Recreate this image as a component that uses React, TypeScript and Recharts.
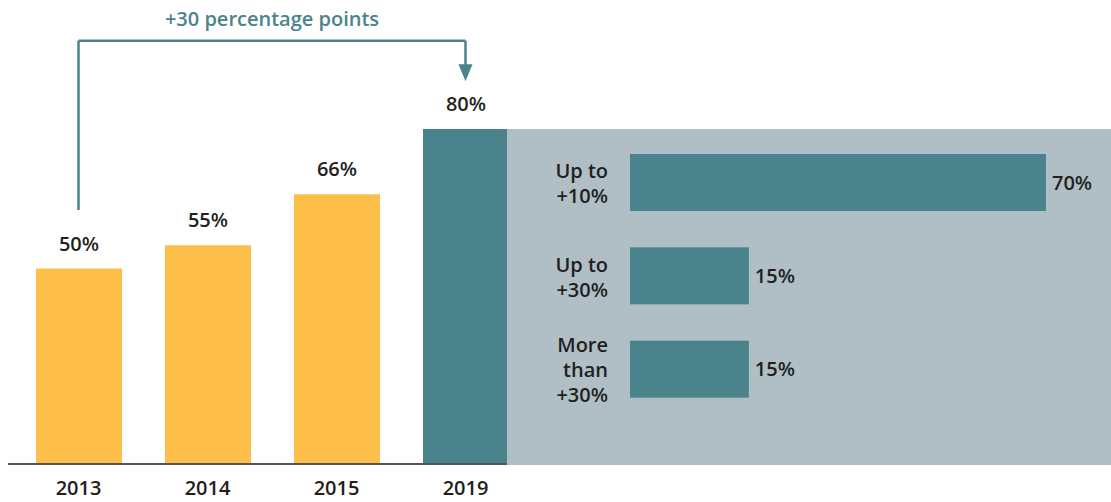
import React from 'react';
import { BarChart, Bar, XAxis, YAxis, LabelList, ReferenceLine, Cell } from 'recharts';

const years = ['2013', '2014', '2015', '2019'];
const shares = [50, 55, 66, 80];
const yearColors = ['#FDBF4A', '#FDBF4A', '#FDBF4A', '#4A838B'];

const bands = ['Up to\n+10%', 'Up to\n+30%', 'More\nthan\n+30%'];
const bandShares = [70, 15, 15];

const annotationText = '+30 percentage points';

const FONT = '"Open Sans", Lato, sans-serif';
const FS = 20;
const FW = 600;
const TEAL = '#4A838B';
const INK = '#231F20';
const PANEL = '#AFBFC5';

const leftData = years.map((year, i) => ({ year, share: shares[i], color: yearColors[i] }));
const rightData = bands.map((band, i) => ({ band, share: bandShares[i] }));

const pct = (v: any) => `${v}%`;

const BandTick = (props: any) => {
  const { x, y, payload } = props;
  const lines = String(payload.value).split('\n');
  const lh = 25;
  const start = -((lines.length - 1) * lh) / 2;
  return (
    <text textAnchor="end" fontFamily={FONT} fontSize={FS} fontWeight={FW} fill={INK} dominantBaseline="central">
      {lines.map((l, i) => (
        <tspan key={i} x={x - 14} y={y + start + i * lh}>
          {l}
        </tspan>
      ))}
    </text>
  );
};

const FromStartBar = (p: any) => {
  const left = p.background && typeof p.background.x === 'number' ? p.background.x : p.x;
  return <rect x={left} y={p.y} width={p.x + p.width - left} height={p.height} fill={p.fill} />;
};

const ArrowLine = (p: any) => {
  const { x1, y1, x2, y2 } = p;
  const ah = 17;
  const aw = 7;
  return (
    <g>
      <line x1={x1} y1={y1} x2={x2} y2={y2 - ah + 2} stroke={TEAL} strokeWidth={2.5} />
      <polygon points={`${x2},${y2} ${x2 - aw},${y2 - ah} ${x2 + aw},${y2 - ah}`} fill={TEAL} />
    </g>
  );
};

const labelStyle = { fill: INK, fontSize: FS, fontWeight: FW, fontFamily: FONT };

export default function App() {
  return (
    <div style={{ position: 'absolute', left: 0, top: 0, width: 1111, height: 502, background: '#fff', fontFamily: FONT }}>
      <div style={{ position: 'absolute', left: 0, top: 0 }}>
        <BarChart width={530} height={502} data={leftData} margin={{ top: 36, right: 0, bottom: 0, left: 8 }}>
          <XAxis
            dataKey="year"
            height={38}
            padding={{ left: 6, right: 0 }}
            axisLine={{ stroke: '#555', strokeWidth: 2 }}
            tickLine={false}
            tickSize={0}
            tickMargin={17}
            tick={labelStyle}
          />
          <YAxis hide type="number" domain={[8, 100]} allowDataOverflow />
          <Bar dataKey="share" barSize={86} isAnimationActive={false}>
            {leftData.map((d, i) => (
              <Cell key={i} fill={d.color} />
            ))}
            <LabelList dataKey="share" position="top" offset={18} formatter={pct} style={labelStyle} />
          </Bar>
          <ReferenceLine
            segment={[{ x: '2013', y: 62.6 }, { x: '2013', y: 99 }]}
            stroke={TEAL}
            strokeWidth={2.5}
            ifOverflow="visible"
          />
          <ReferenceLine
            segment={[{ x: '2013', y: 99 }, { x: '2019', y: 99 }]}
            stroke={TEAL}
            strokeWidth={2.5}
            ifOverflow="visible"
            label={{
              value: annotationText,
              position: 'top',
              offset: 15,
              fill: TEAL,
              fontSize: FS,
              fontWeight: FW,
              fontFamily: FONT,
            }}
          />
          <ReferenceLine
            segment={[{ x: '2019', y: 99 }, { x: '2019', y: 90.3 }]}
            stroke={TEAL}
            strokeWidth={2.5}
            ifOverflow="visible"
            shape={ArrowLine}
          />
        </BarChart>
      </div>
      <div style={{ position: 'absolute', left: 507, top: 129, width: 604, height: 336, background: PANEL }}>
        <BarChart
          width={604}
          height={336}
          data={rightData}
          layout="vertical"
          margin={{ top: 7, right: 11, bottom: 49, left: 0 }}
        >
          <XAxis hide type="number" domain={[-7, 80]} allowDataOverflow />
          <YAxis
            type="category"
            dataKey="band"
            width={123}
            axisLine={false}
            tickLine={false}
            tick={<BandTick />}
          />
          <Bar dataKey="share" barSize={57} fill={TEAL} shape={FromStartBar} isAnimationActive={false}>
            <LabelList dataKey="share" position="right" offset={6} formatter={pct} style={labelStyle} />
          </Bar>
        </BarChart>
      </div>
    </div>
  );
}
